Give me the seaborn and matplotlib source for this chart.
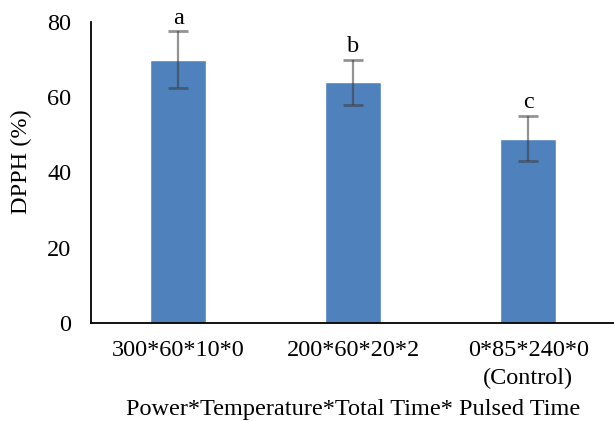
import matplotlib
matplotlib.use("Agg")
import matplotlib.pyplot as plt
import seaborn as sns
import pandas as pd

categories = ["300*60*10*0", "200*60*20*2", "0*85*240*0\n(Control)"]
values = [70.0, 64.0, 49.0]
errors = [7.5, 6.0, 6.0]
letters = ["a", "b", "c"]
yticks = [0, 20, 40, 60, 80]

sns.set_theme(style="white")
plt.rcParams['font.family'] = ['Liberation Serif', 'DejaVu Serif']

df = pd.DataFrame({"cat": categories, "val": values})

fig = plt.figure(figsize=(6.14, 4.21), dpi=100)
ax = fig.add_axes([0.148, 0.233, 0.855, 0.715])
sns.barplot(data=df, x="cat", y="val", color="#4F81BD", saturation=1,
            width=0.32, errorbar=None, ax=ax)
ax.errorbar(range(len(values)), values, yerr=errors, fmt="none",
            ecolor="#3a3a3a", alpha=0.55, elinewidth=1.6, capsize=7, capthick=2.0)
for i, (v, e, l) in enumerate(zip(values, errors, letters)):
    ax.text(i, v + e + 2.0, l, ha="center", va="baseline", fontsize=17.5, color="black")

ax.set_ylim(0, 80)
ax.set_xlim(-0.5, 2.5)
ax.set_yticks(yticks)
ax.set_yticklabels([str(t) for t in yticks])
ax.tick_params(axis="both", length=0, labelsize=17.5, colors="black")
ax.tick_params(axis="y", pad=14)
ax.tick_params(axis="x", pad=12)
for lab in ax.get_xticklabels():
    lab.set_linespacing(1.47)
ax.set_ylabel("DPPH (%)", fontsize=17.5, color="black")
ax.yaxis.label.set_va("center")
ax.yaxis.set_label_coords(-0.132, 0.535)
ax.set_xlabel("Power*Temperature*Total Time* Pulsed Time", fontsize=17.5, color="black")
ax.xaxis.label.set_va("center")
ax.xaxis.set_label_coords(0.5, -0.289)
for s in ["top", "right"]:
    ax.spines[s].set_visible(False)
for s in ["left", "bottom"]:
    ax.spines[s].set_color("black")
    ax.spines[s].set_linewidth(1.3)
ax.set_facecolor("white")
fig.patch.set_facecolor("white")
fig.savefig("out.png", dpi=100)
